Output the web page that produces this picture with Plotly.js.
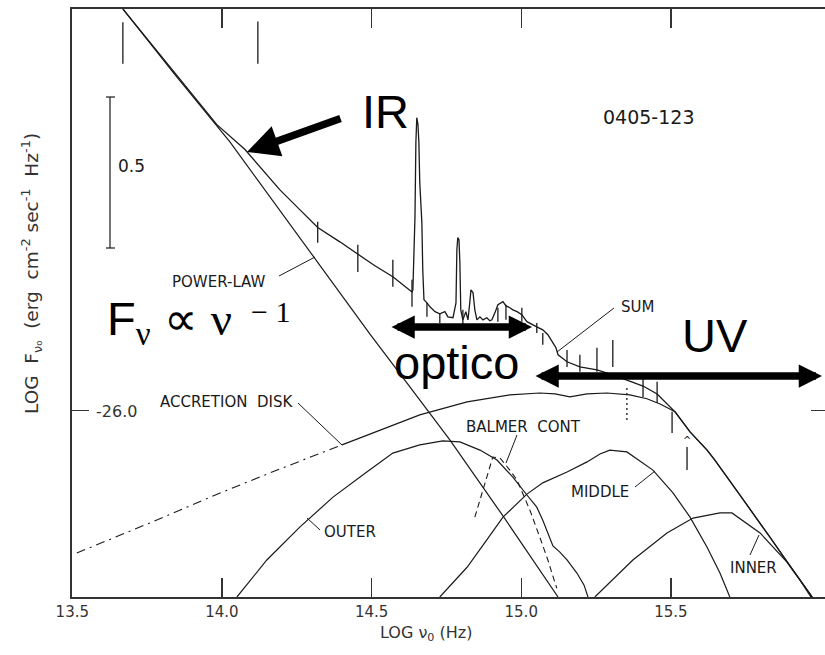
<!DOCTYPE html>
<html><head><meta charset="utf-8">
<script src="https://cdn.plot.ly/plotly-3.0.1.min.js"></script>
<style>html,body{margin:0;padding:0;overflow:hidden;background:#fff}#chart{width:832px;height:655px}</style>
</head><body><div id="chart"></div>
<script>
// ---------- data (log nu [Hz], log F_nu) ----------
const powerLawLogNu = [13.669, 13.843, 14.026, 14.310, 14.494, 14.628, 14.762, 14.939, 15.106, 15.123];
const powerLawLogF  = [-24.677, -24.893, -25.114, -25.496, -25.747, -25.922, -26.097, -26.347, -26.591, -26.614];

const sumLogNu = [13.669, 13.843, 13.983, 14.077, 14.137, 14.193, 14.260, 14.320, 14.394, 14.454, 14.511, 14.571, 14.611, 14.635,
  14.638, 14.641, 14.645, 14.648, 14.651, 14.655, 14.658, 14.661, 14.665, 14.668, 14.671, 14.675,
  14.685, 14.695, 14.712, 14.728, 14.745, 14.755, 14.772, 14.782, 14.785, 14.788, 14.792, 14.795, 14.798, 14.805,
  14.815, 14.822, 14.828, 14.832, 14.839, 14.845, 14.852, 14.862, 14.872, 14.885, 14.895, 14.902, 14.912, 14.922,
  14.939, 14.949, 14.962, 14.972, 14.986, 15.002, 15.019, 15.036, 15.052, 15.072, 15.089, 15.106, 15.116, 15.123,
  15.153, 15.196, 15.253, 15.306, 15.353, 15.407, 15.454, 15.514, 15.564, 15.621, 15.647, 15.731, 15.831, 15.898, 15.975];
const sumLogF = [-24.677, -24.890, -25.058, -25.140, -25.209, -25.272, -25.338, -25.397, -25.444, -25.483, -25.523, -25.559, -25.589, -25.609,
  -25.602, -25.470, -25.361, -25.117, -25.035, -25.058, -25.117, -25.249, -25.322, -25.381, -25.536, -25.635,
  -25.645, -25.658, -25.674, -25.681, -25.674, -25.691, -25.694, -25.645, -25.470, -25.430, -25.437, -25.513, -25.668, -25.701,
  -25.674, -25.701, -25.645, -25.602, -25.612, -25.668, -25.701, -25.691, -25.701, -25.694, -25.704, -25.701, -25.678, -25.651,
  -25.641, -25.655, -25.661, -25.668, -25.674, -25.684, -25.707, -25.717, -25.724, -25.734, -25.750, -25.777, -25.793, -25.816,
  -25.839, -25.856, -25.866, -25.882, -25.899, -25.919, -25.945, -26.004, -26.070, -26.130, -26.163, -26.278, -26.417, -26.512, -26.618];

const diskLogNu = [13.515, 13.759, 13.970, 14.194, 14.401, 14.528, 14.661, 14.819, 14.962, 15.062, 15.113, 15.163, 15.220,
  15.286, 15.363, 15.420, 15.464, 15.514, 15.564, 15.621, 15.647, 15.731, 15.831, 15.898, 15.975];
const diskLogF = [-26.469, -26.370, -26.281, -26.192, -26.113, -26.064, -26.014, -25.971, -25.948, -25.942, -25.945, -25.955, -25.945,
  -25.942, -25.948, -25.961, -25.978, -26.004, -26.070, -26.130, -26.163, -26.278, -26.417, -26.512, -26.618];
const diskDashedBelow = 14.401;

const outerLogNu = [14.050, 14.150, 14.260, 14.371, 14.484, 14.571, 14.661, 14.738, 14.795, 14.862, 14.919, 14.972, 15.019,
  15.052, 15.072, 15.096, 15.106, 15.129, 15.153, 15.186, 15.210, 15.223];
const outerLogF = [-26.614, -26.492, -26.384, -26.285, -26.202, -26.140, -26.113, -26.100, -26.103, -26.130, -26.163, -26.219, -26.278,
  -26.318, -26.361, -26.426, -26.446, -26.466, -26.492, -26.535, -26.575, -26.614];

const middleLogNu = [14.728, 14.819, 14.885, 14.939, 15.019, 15.072, 15.153, 15.220, 15.263, 15.296, 15.353, 15.440, 15.507,
  15.564, 15.621, 15.664, 15.697];
const middleLogF = [-26.614, -26.516, -26.426, -26.351, -26.275, -26.238, -26.202, -26.169, -26.143, -26.130, -26.136, -26.196, -26.271,
  -26.351, -26.450, -26.535, -26.614];

const innerLogNu = [15.246, 15.373, 15.487, 15.574, 15.664, 15.704, 15.798, 15.888, 15.931, 15.968];
const innerLogF  = [-26.614, -26.492, -26.403, -26.354, -26.337, -26.337, -26.403, -26.499, -26.558, -26.614];

const balmerLogNu = [14.845, 14.875, 14.905, 14.929, 14.962, 14.986, 15.029, 15.062, 15.089, 15.113, 15.119];
const balmerLogF  = [-26.351, -26.252, -26.153, -26.156, -26.196, -26.229, -26.328, -26.417, -26.492, -26.568, -26.585];

const errLogNu = [13.669, 14.120, 14.320, 14.454, 14.571, 14.635, 14.685, 14.728, 14.805, 14.922, 14.949, 15.002, 15.052, 15.072,
  15.153, 15.196, 15.253, 15.306, 15.407, 15.454, 15.504, 15.554];
const errHi = [-24.721, -24.718, -25.378, -25.454, -25.503, -25.569, -25.645, -25.681, -25.668, -25.661, -25.651, -25.661, -25.711, -25.744,
  -25.800, -25.816, -25.793, -25.767, -25.892, -25.905, -26.004, -26.120];
const errLo = [-24.857, -24.857, -25.447, -25.543, -25.592, -25.658, -25.691, -25.711, -25.717, -25.707, -25.701, -25.707, -25.744, -25.783,
  -25.856, -25.872, -25.872, -25.856, -25.955, -25.975, -26.074, -26.196];

const dottedLogNu = [15.353];
const dottedHi = [-25.922];
const dottedLo = [-26.031];

const xTickVals = [13.5, 14.0, 14.5, 15.0, 15.5];
const xTickText = ['13.5', '14.0', '14.5', '15.0', '15.5'];
const yTickVals = [-26.0];
const yTickText = ['-26.0'];

// ---------- layout helpers (pixel -> axis position for annotations/shapes) ----------
const XR = [13.499, 16.025], YR = [-26.614, -24.677];
const PL = 72, PR = 828, PT = 9, PB = 597;
function dx(p){ return XR[0] + (p - PL) / (PR - PL) * (XR[1] - XR[0]); }
function dy(p){ return YR[0] + (PB - p) / (PB - PT) * (YR[1] - YR[0]); }
function px(p){ return (p - PL) / (PR - PL); }
function py(p){ return (PB - p) / (PB - PT); }

const INK = '#1a1a1a';
const plotFont = 'DejaVu Sans, Liberation Sans, sans-serif';

function lineTrace(x, y, extra){
  return Object.assign({type:'scatter', mode:'lines', x:x, y:y, hoverinfo:'skip',
    line:{color:INK, width:1.2}}, extra || {});
}
function segTrace(xs, lo, hi, dash, width){
  const x = [], y = [];
  xs.forEach((v, i) => { x.push(v, v, null); y.push(lo[i], hi[i], null); });
  return lineTrace(x, y, {line:{color:INK, width:width || 1.2, dash:dash || 'solid'}});
}

const dashIdx = diskLogNu.map((v,i)=>i).filter(i => diskLogNu[i] <= diskDashedBelow);
const solidIdx = diskLogNu.map((v,i)=>i).filter(i => diskLogNu[i] >= diskDashedBelow);

const traces = [
  lineTrace(powerLawLogNu, powerLawLogF, {name:'POWER-LAW'}),
  lineTrace(sumLogNu, sumLogF, {name:'SUM', line:{color:INK, width:1.3}}),
  lineTrace(dashIdx.map(i=>diskLogNu[i]), dashIdx.map(i=>diskLogF[i]), {name:'ACCRETION DISK', line:{color:INK, width:1.1, dash:'9px,5px,2px,5px'}}),
  lineTrace(solidIdx.map(i=>diskLogNu[i]), solidIdx.map(i=>diskLogF[i]), {name:'ACCRETION DISK'}),
  lineTrace(outerLogNu, outerLogF, {name:'OUTER'}),
  lineTrace(middleLogNu, middleLogF, {name:'MIDDLE'}),
  lineTrace(innerLogNu, innerLogF, {name:'INNER'}),
  lineTrace(balmerLogNu, balmerLogF, {name:'BALMER CONT', line:{color:INK, width:1.1, dash:'6px,4px'}}),
  segTrace(errLogNu, errLo, errHi, 'solid', 1.3),
  segTrace(dottedLogNu, dottedLo, dottedHi, '2px,3px', 1.3)
];

function label(t, x, y, size, extra){
  return Object.assign({text:t, x:dx(x), y:dy(y), xref:'x', yref:'y', showarrow:false,
    xanchor:'center', yanchor:'middle', font:{family:plotFont, size:size, color:INK}}, extra || {});
}
function arrow(tipPx, tipPy, tailPx, tailPy, size, both){
  const a = {text:'', x:dx(tipPx), y:dy(tipPy), xref:'x', yref:'y', axref:'x', ayref:'y',
    ax:dx(tailPx), ay:dy(tailPy), showarrow:true, arrowhead:2, arrowsize:size, arrowwidth:7.5,
    arrowcolor:'#000', standoff:0, startstandoff:0, font:{size:1}};
  if (both){ a.arrowside = 'end+start'; a.startarrowhead = 2; a.startarrowsize = size; }
  return a;
}
const bigFont = {family:'Liberation Sans, Arial, sans-serif', size:47, color:'#000'};
const serifFont = {family:'Liberation Serif, Times New Roman, serif', size:30, color:'#000'};
const annotations = [
  label('0405-123', 648, 117, 19),
  label('0.5', 131, 166, 17),
  label('POWER-LAW', 219, 282, 15),
  label('SUM', 637, 307, 15),
  label('ACCRETION  DISK', 226, 402, 15),
  label('BALMER  CONT', 523, 427, 15),
  label('MIDDLE', 600, 492, 15),
  label('OUTER', 350, 532, 15),
  label('INNER', 753, 568, 15),
  label('^', 687, 440, 10),
  // y tick label, drawn inside the frame as in the original
  label(yTickText[0], 116, 411, 16, {font:{family:plotFont, size:16, color:'#333'}}),
  Object.assign(label('IR', 385, 111, 47), {font:bigFont}),
  Object.assign(label('optico', 456, 362, 47), {font:bigFont}),
  Object.assign(label('UV', 715, 335, 47), {font:bigFont}),
  Object.assign(label('F<sub><span style="font-family:Liberation Serif">ν</span></sub> ∝ <span style="font-family:Liberation Serif">ν</span>', 105, 322, 47), {font:bigFont, xanchor:'left'}),
  Object.assign(label('− 1', 249, 311, 30), {font:serifFont, xanchor:'left'}),
  // axis titles
  {text:'LOG ν<sub>0</sub> (Hz)', xref:'paper', yref:'paper', x:px(426), y:py(633), showarrow:false,
    xanchor:'center', yanchor:'middle', font:{family:plotFont, size:16, color:'#333'}},
  {text:'LOG  F<sub>ν₀</sub>  (erg  cm<sup>-2</sup> sec<sup>-1</sup>  Hz<sup>-1</sup>)', xref:'paper', yref:'paper', x:px(31), y:py(274),
    showarrow:false, textangle:-90, xanchor:'center', yanchor:'middle', font:{family:plotFont, size:18.5, color:'#333'}},
  arrow(247, 152, 342, 118, 0.85, false),
  arrow(532, 327, 390, 327, 0.62, true),
  arrow(822, 376, 534, 376, 0.62, true)
];

function seg(x0, y0, x1, y1, w){
  return {type:'line', xref:'x', yref:'y', x0:dx(x0), y0:dy(y0), x1:dx(x1), y1:dy(y1), line:{color:INK, width:w || 1}};
}
const shapes = [
  seg(279, 276, 315, 257),
  seg(614, 308, 557, 352),
  seg(298, 403, 342, 445),
  seg(517, 435, 506, 463),
  seg(635, 487, 655, 471),
  seg(320, 530, 307, 518),
  seg(750, 555, 759, 535),
  seg(110, 97, 110, 248, 1.2),
  seg(106, 97, 115, 97, 1.2),
  seg(106, 248, 115, 248, 1.2)
];

const layout = {
  width: 832, height: 655,
  margin: {l: PL, r: 832 - PR, t: PT, b: 655 - PB, pad: 0},
  paper_bgcolor: '#fff', plot_bgcolor: '#fff',
  showlegend: false,
  xaxis: {range: XR, tickmode:'array', tickvals: xTickVals, ticktext: xTickText,
    ticks:'inside', ticklen:19, tickwidth:1.3, tickcolor:'#333',
    showline:true, linecolor:'#333', linewidth:2, mirror:'ticks',
    showgrid:false, zeroline:false, automargin:false, fixedrange:true,
    tickfont:{family:plotFont, size:15, color:'#333'}},
  yaxis: {range: YR, tickmode:'array', tickvals: yTickVals, ticktext: yTickText, showticklabels:false,
    ticks:'inside', ticklen:17, tickwidth:1.3, tickcolor:'#333',
    showline:true, linecolor:'#333', linewidth:2, mirror:'ticks',
    showgrid:false, zeroline:false, automargin:false, fixedrange:true},
  annotations: annotations,
  shapes: shapes
};

Plotly.newPlot('chart', traces, layout, {displayModeBar:false, staticPlot:true});
</script></body></html>
